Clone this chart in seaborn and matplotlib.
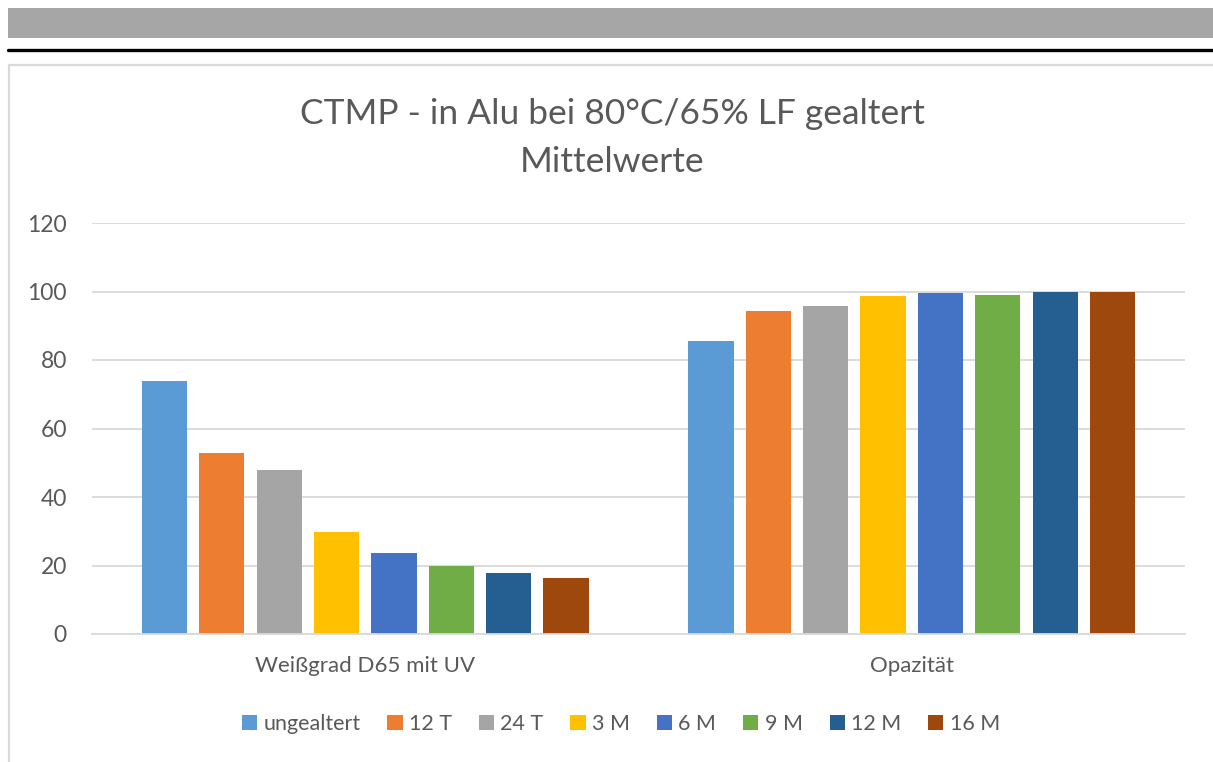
import matplotlib
matplotlib.use("Agg")
import matplotlib.pyplot as plt
import seaborn as sns
import pandas as pd
from matplotlib.patches import Rectangle
from matplotlib.lines import Line2D

categories = ["Weißgrad D65 mit UV", "Opazität"]
series = ["ungealtert", "12 T", "24 T", "3 M", "6 M", "9 M", "12 M", "16 M"]
weissgrad = [73.9, 52.8, 47.9, 29.7, 23.6, 19.9, 17.9, 16.3]
opazitaet = [85.6, 94.2, 95.9, 98.7, 99.5, 99.1, 99.9, 99.9]
colors = ["#5B9BD5", "#ED7D31", "#A5A5A5", "#FFC000", "#4472C4", "#70AD47", "#255E91", "#9E480E"]
yticks = [0, 20, 40, 60, 80, 100, 120]
title1 = "CTMP - in Alu bei 80°C/65% LF gealtert"
title2 = "Mittelwerte"

rows = []
for s, a, b in zip(series, weissgrad, opazitaet):
    rows.append({"cat": categories[0], "series": s, "value": a})
    rows.append({"cat": categories[1], "series": s, "value": b})
df = pd.DataFrame(rows)

sns.set_theme(style="white")
plt.rcParams["font.family"] = ["Lato", "DejaVu Sans"]
text_color = "#595959"
grid_color = "#D9D9D9"

fig = plt.figure(figsize=(12.13, 7.62), dpi=100)
W, H = 1213, 762

# decorations: gray band, black rule, chart frame
fig.patches.append(Rectangle((8 / W, 1 - 38 / H), 1 - 8 / W, 30 / H, transform=fig.transFigure,
                             facecolor="#A6A6A6", edgecolor="none", zorder=0))
fig.lines.append(Line2D([8 / W, 1], [1 - 49.5 / H, 1 - 49.5 / H], transform=fig.transFigure,
                        color="black", linewidth=2.4))
fig.lines.append(Line2D([8.5 / W, 8.5 / W, 1], [0, 1 - 65 / H, 1 - 65 / H], transform=fig.transFigure,
                        color=grid_color, linewidth=1.6))

ax = fig.add_axes([92 / W, 1 - 634 / H, (1185 - 92) / W, (634 - 223) / H])
sns.barplot(data=df, x="cat", y="value", hue="series", hue_order=series, order=categories,
            palette=colors, width=0.84, gap=0.21, ax=ax, errorbar=None,
            saturation=1, linewidth=0, zorder=3)

ax.set_ylim(0, 120)
ax.set_yticks(yticks)
ax.set_xlim(-0.5, 1.5)
ax.set_xlabel("")
ax.set_ylabel("")
for sp in ["top", "right", "left"]:
    ax.spines[sp].set_visible(False)
ax.spines["bottom"].set_color(grid_color)
ax.spines["bottom"].set_linewidth(1.3)
ax.spines["bottom"].set_zorder(4)
ax.yaxis.grid(True, color=grid_color, linewidth=1.3, zorder=0)
ax.set_axisbelow(True)
ax.tick_params(axis="both", length=0, colors=text_color)
ax.tick_params(axis="y", pad=18, labelsize=16.5)
ax.tick_params(axis="x", pad=16, labelsize=16)
for t in ax.get_yticklabels():
    t.set_horizontalalignment("right")

fig.text(612 / W, 1 - 114 / H, title1, ha="center", va="center", fontsize=25.5, color=text_color)
fig.text(612 / W, 1 - 162 / H, title2, ha="center", va="center", fontsize=25.5, color=text_color)

leg = ax.get_legend()
if leg is not None:
    leg.remove()
handles = [Rectangle((0, 0), 1, 1, facecolor=c, edgecolor="none") for c in colors]
fig.legend(handles, series, loc="center", bbox_to_anchor=(621 / W, 1 - 724 / H), ncol=8,
           frameon=False, fontsize=15.5, handlelength=0.7, handleheight=0.7, handletextpad=0.3,
           columnspacing=1.25, labelcolor=text_color)

fig.savefig("out.png", dpi=100, facecolor="white")
